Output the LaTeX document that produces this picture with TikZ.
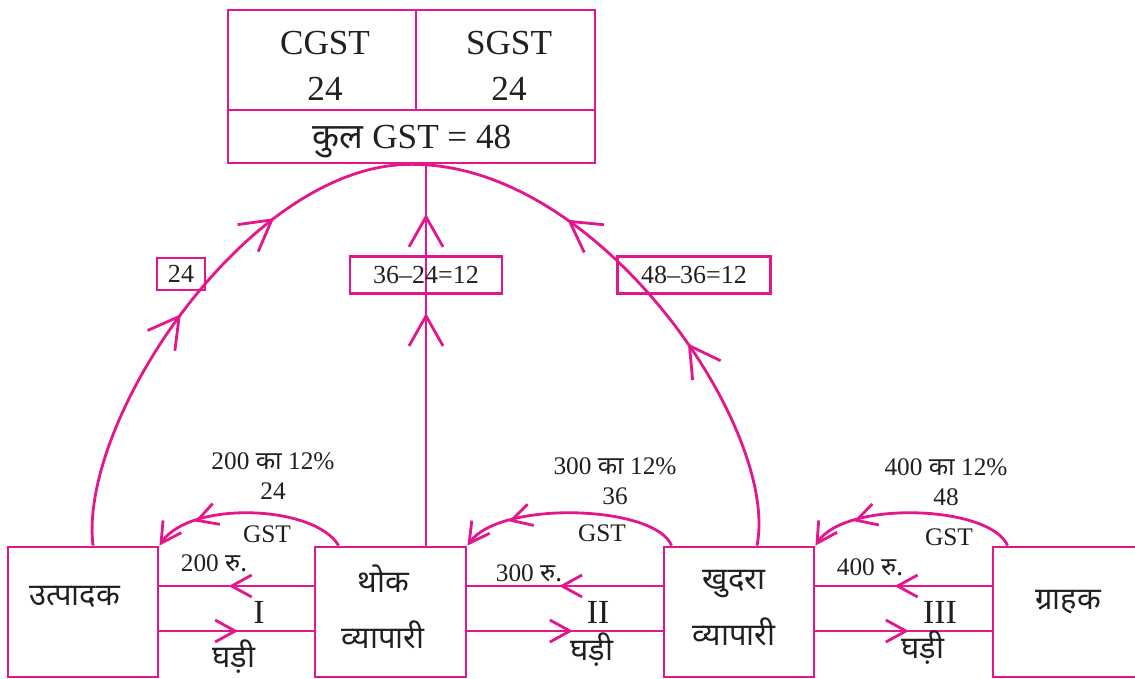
\documentclass[tikz,border=0pt]{standalone}
\usepackage{fontspec}
\setmainfont{Liberation Serif}
\newfontfamily\dev[Script=Devanagari]{Noto Sans}
\usetikzlibrary{arrows.meta,decorations.markings}
\definecolor{gstpink}{HTML}{E4168C}
\definecolor{ink}{HTML}{231F20}
\tikzset{
  pinkline/.style={draw=gstpink, line width=2pt},
  box/.style={pinkline, minimum width=3.75cm, minimum height=3.25cm, inner sep=0pt},
  cell/.style={pinkline, inner sep=0pt},
  celltext/.style={text=ink, align=center, font=\fontsize{25}{33}\selectfont},
  tag/.style={pinkline, inner sep=0pt, text=ink, font=\fontsize{18.5}{20}\selectfont},
  small/.style={text=ink, align=center, font=\fontsize{18}{21}\selectfont},
  roman/.style={text=ink, font=\fontsize{24}{26}\selectfont},
  hindi/.style={text=ink, align=center, font=\dev\fontsize{22}{40}\selectfont},
  gstbarb/.tip={Straight Barb[length=0.5cm, width=0.55cm]},
  bigbarb/.tip={Straight Barb[length=0.75cm, width=0.85cm]},
  tipat/.style 2 args={postaction={decorate, decoration={markings, mark=at position #1 with {\arrow{#2}}}}},
}
\begin{document}
\begin{tikzpicture}[x=0.025cm, y=-0.025cm]
\useasboundingbox (0,0) rectangle (1135,678);
\node[cell, minimum width=4.7cm, minimum height=2.5cm] (cgst) at (322,60) {};
\node[cell, minimum width=4.475cm, minimum height=2.5cm] (sgst) at (505.5,60) {};
\node[cell, minimum width=9.175cm, minimum height=1.325cm] (total) at (411.5,136.5) {};
\node[celltext] (cgsttxt) at (325,66) {CGST\\24};
\node[celltext] (sgsttxt) at (509,66) {SGST\\24};
\node[celltext] (totaltxt) at (412,142) {{\dev कुल} GST = 48};

\node[box] (prod) at (83,612) {};
\node[box, minimum width=3.775cm] (whole) at (390.5,612) {};
\node[box] (retail) at (739,612) {};
\node[box] (cust) at (1068,612) {};
\node[hindi] (prodtxt) at (75,597) {उत्पादक};
\node[hindi] (wholetxt) at (383,607) {थोक\\व्यापारी};
\node[hindi] (retailtxt) at (734,608) {खुदरा\\व्यापारी};
\node[hindi] (custtxt) at (1068,602) {ग्राहक};

\draw[pinkline, tipat={0.55}{gstbarb}] ([yshift=0.65cm]whole.west) -- ([yshift=0.65cm]prod.east);
\draw[pinkline, tipat={0.51}{gstbarb}] ([yshift=-0.475cm]prod.east) -- ([yshift=-0.475cm]whole.west);
\draw[pinkline, tipat={0.53}{gstbarb}] ([yshift=0.65cm]retail.west) -- ([yshift=0.65cm]whole.east);
\draw[pinkline, tipat={0.54}{gstbarb}] ([yshift=-0.475cm]whole.east) -- ([yshift=-0.475cm]retail.west);
\draw[pinkline, tipat={0.55}{gstbarb}] ([yshift=0.65cm]cust.west) -- ([yshift=0.65cm]retail.east);
\draw[pinkline, tipat={0.53}{gstbarb}] ([yshift=-0.475cm]retail.east) -- ([yshift=-0.475cm]cust.west);

\draw[pinkline, -gstbarb, tipat={0.78}{gstbarb}] ([xshift=0.625cm]whole.north west) .. controls (315,505) and (190,500) .. (prod.north east);
\draw[pinkline, -gstbarb, tipat={0.78}{gstbarb}] ([xshift=0.225cm]retail.north west) .. controls (655,505) and (500,500) .. (whole.north east);
\draw[pinkline, -gstbarb, tipat={0.78}{gstbarb}] ([xshift=0.4cm]cust.north west) .. controls (990,505) and (845,500) .. (retail.north east);

\draw[pinkline, tipat={0.47}{bigbarb}, tipat={0.72}{bigbarb}] ([xshift=0.25cm]prod.north) .. controls (78,420) and (250,163) .. (total.south);
\draw[pinkline, tipat={0.61}{bigbarb}, tipat={0.87}{bigbarb}] ([xshift=0.8875cm]whole.north) -- ([xshift=0.8875cm]whole.north |- total.south);
\draw[pinkline, tipat={0.39}{bigbarb}, tipat={0.70}{bigbarb}] ([xshift=0.45cm]retail.north) .. controls (780,430) and (600,163) .. (total.south);

\node[tag, minimum width=1.2cm, minimum height=0.8cm] (tag1) at (181,274) {24};
\node[tag, minimum width=3.8cm, minimum height=0.925cm] (tag2) at (426,275) {36–24=12};
\node[tag, minimum width=3.825cm, minimum height=0.925cm] (tag3) at (694,275) {48–36=12};

\node[small] (rate1) at (273,476) {200 {\dev का} 12\%\\24};
\node[small] (gst1) at (267,534) {GST};
\node[small] (pay1) at (214,563) {200 {\dev रु.}};
\node[roman] (num1) at (259,612) {I};
\node[hindi] (ghadi1) at (234,657) {घड़ी};

\node[small] (rate2) at (615,481) {300 {\dev का} 12\%\\36};
\node[small] (gst2) at (602,533) {GST};
\node[small] (pay2) at (529,573) {300 {\dev रु.}};
\node[roman] (num2) at (598,612) {II};
\node[hindi] (ghadi2) at (592,650) {घड़ी};

\node[small] (rate3) at (946,482) {400 {\dev का} 12\%\\48};
\node[small] (gst3) at (949,537) {GST};
\node[small] (pay3) at (870,567) {400 {\dev रु.}};
\node[roman] (num3) at (940,612) {III};
\node[hindi] (ghadi3) at (923,648) {घड़ी};
\end{tikzpicture}
\end{document}
